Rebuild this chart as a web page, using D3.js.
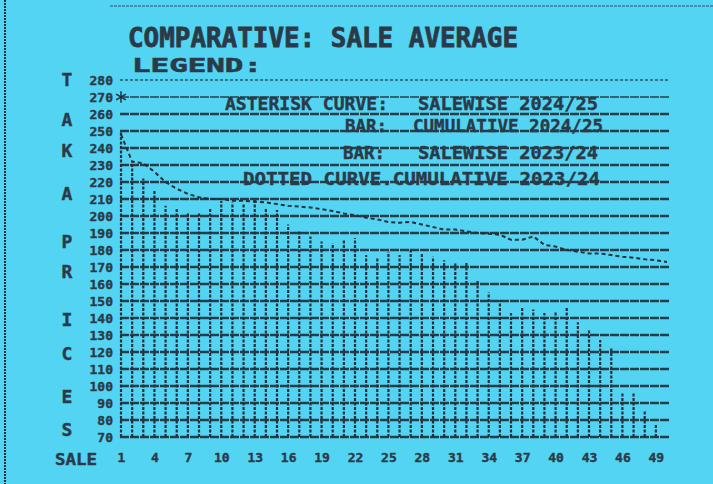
<!DOCTYPE html>
<html>
<head>
<meta charset="utf-8">
<script src="https://cdn.jsdelivr.net/npm/d3@7"></script>
<style>
  html, body { margin: 0; padding: 0; background: #52d4f2; }
  svg { display: block; }
  text { font-family: "DejaVu Sans Mono", "Liberation Mono", monospace; font-weight: bold; fill: #2b3a48; stroke: #2b3a48; stroke-width: 0.4px; }
</style>
</head>
<body>
<div id="chart"></div>
<script>
// values
const yTicks = [70, 80, 90, 100, 110, 120, 130, 140, 150, 160, 170, 180, 190, 200, 210, 220, 230, 240, 250, 260, 270, 280];
const xTicks = [1, 4, 7, 10, 13, 16, 19, 22, 25, 28, 31, 34, 37, 40, 43, 46, 49];

// bars, sale 1..49
const barValues = [250, 232, 222, 215, 206, 204.5, 201.5, 202, 204.5, 209,
  208, 207.5, 210.5, 205, 203.5, 195, 191, 188, 185, 184,
  186, 187, 177, 175, 179, 177, 180, 178, 176, 174,
  172, 173, 162, 155, 150.5, 143, 146, 145, 143, 144,
  146.5, 137.5, 133, 127, 122, 96.5, 96.5, 85, 78];

// dotted curve, sale 1..50
const dottedValues = [248, 232, 231, 226, 220, 216, 213, 211, 210, 210,
  209, 209, 208.5, 208, 207, 206, 205.5, 205, 204, 203,
  201.5, 200.5, 199, 198, 196.5, 196, 196.5, 195, 193.5, 192,
  192, 191, 190, 189.5, 189, 186, 186, 188, 183, 182,
  180, 179, 178, 178, 177, 176, 175.5, 174.5, 174, 173];

// asterisk curve (only the first sale printed)
const asteriskValues = [270];

const titleText = "COMPARATIVE: SALE AVERAGE";
const legendTitle = "LEGEND:";
const legendKeys = ["ASTERISK CURVE:", "BAR:", "BAR:", "DOTTED CURVE.CUMULATIVE 2023/24"];
const legendNames = ["SALEWISE 2024/25", "CUMULATIVE 2024/25", "SALEWISE 2023/24", ""];
const yTitle = ["T", "A", "K", "A", "P", "R", "I", "C", "E", "S"];

const width = 713, height = 484;
const ink = "#22303d";

const svg = d3.select("#chart").append("svg")
  .attr("width", width)
  .attr("height", height);

const x = d3.scaleLinear().domain([1, 50]).range([121, 667]);
const y = d3.scaleLinear().domain([70, 280]).range([437, 80]);

// paper edge marks
svg.append("line")
  .attr("x1", 5).attr("x2", 5).attr("y1", 0).attr("y2", height)
  .attr("stroke", ink).attr("stroke-width", 2).attr("stroke-dasharray", "2,1");
svg.append("line")
  .attr("x1", 110).attr("x2", width).attr("y1", 6).attr("y2", 6)
  .attr("stroke", ink).attr("stroke-width", 1.2).attr("stroke-dasharray", "3,1").attr("opacity", 0.8);

// horizontal grid
svg.append("g").attr("class", "grid")
  .selectAll("line")
  .data(yTicks)
  .enter().append("line")
  .attr("x1", x(1) - 1)
  .attr("x2", x(50) + 3)
  .attr("y1", d => y(d))
  .attr("y2", d => y(d))
  .attr("stroke", ink)
  .attr("stroke-width", d => d >= 270 ? 1.5 : 2.3)
  .attr("stroke-dasharray", d => d == 280 ? "3,2" : "9,1")
  .attr("opacity", d => d == 280 ? 0.75 : 0.92);

// bars as dotted verticals
svg.append("g").attr("class", "bars")
  .selectAll("line")
  .data(barValues)
  .enter().append("line")
  .attr("x1", (d, i) => x(i + 1))
  .attr("x2", (d, i) => x(i + 1))
  .attr("y1", y(70))
  .attr("y2", d => y(d))
  .attr("stroke", ink)
  .attr("stroke-width", 2.2)
  .attr("stroke-dasharray", "3,1.5");

// dotted curve
const line = d3.line()
  .x((d, i) => x(i + 1))
  .y(d => y(d));

svg.append("path")
  .datum(dottedValues)
  .attr("d", line)
  .attr("fill", "none")
  .attr("stroke", ink)
  .attr("stroke-width", 2)
  .attr("stroke-dasharray", "4,3");

// asterisk curve
svg.append("g")
  .selectAll("path")
  .data(asteriskValues)
  .enter().append("path")
  .attr("d", d3.symbol(d3.symbolAsterisk, 90))
  .attr("transform", (d, i) => `translate(${x(i + 1)},${y(d)})`)
  .attr("fill", "none")
  .attr("stroke", ink)
  .attr("stroke-width", 1.5);

// y axis labels
svg.append("g")
  .attr("transform", `translate(${x(1)},0)`)
  .call(d3.axisLeft(y).tickValues(yTicks).tickSize(0).tickPadding(8).tickFormat(d3.format("d")))
  .call(g => g.select(".domain").remove())
  .selectAll("text")
  .style("font-size", "13px")
  .attr("fill", ink);

// x axis labels
svg.append("g")
  .attr("transform", `translate(0,${y(70)})`)
  .call(d3.axisBottom(x).tickValues(xTicks).tickSize(0).tickPadding(16).tickFormat(d3.format("d")))
  .call(g => g.select(".domain").remove())
  .selectAll("text")
  .style("font-size", "13px")
  .attr("fill", ink);

svg.append("text")
  .attr("x", 55).attr("y", 465)
  .attr("textLength", 42).attr("lengthAdjust", "spacingAndGlyphs")
  .style("font-size", "15px")
  .text("SALE");

// vertical axis title, one letter per row
const letterY = [80, 120, 151, 194, 242, 272, 320, 354, 397, 430];
svg.append("g")
  .selectAll("text")
  .data(yTitle)
  .enter().append("text")
  .attr("x", 67)
  .attr("y", (d, i) => letterY[i])
  .attr("dy", "0.36em")
  .attr("text-anchor", "middle")
  .style("font-size", "18px")
  .text(d => d);

// title and legend
svg.append("text")
  .attr("x", 128).attr("y", 47)
  .attr("textLength", 390).attr("lengthAdjust", "spacingAndGlyphs")
  .style("font-size", "27px")
  .style("stroke-width", "0.8px")
  .text(titleText);

svg.append("text")
  .attr("x", 132).attr("y", 72)
  .attr("textLength", 130).attr("lengthAdjust", "spacingAndGlyphs")
  .style("font-size", "20px")
  .style("stroke-width", "0.6px")
  .text(legendTitle);

const legendRows = [
  { y: 110, kx: 225, kw: 163, nx: 418, nw: 180 },
  { y: 132, kx: 345, kw: 42, nx: 413, nw: 190 },
  { y: 159, kx: 343, kw: 42, nx: 418, nw: 180 },
  { y: 185, kx: 243, kw: 357, nx: 0, nw: 0 }
];

const lg = svg.append("g").attr("class", "legend");
legendRows.forEach((r, i) => {
  lg.append("text")
    .attr("x", r.kx).attr("y", r.y)
    .attr("textLength", r.kw).attr("lengthAdjust", "spacingAndGlyphs")
    .style("font-size", "18px")
    .text(legendKeys[i]);
  if (legendNames[i]) {
    lg.append("text")
      .attr("x", r.nx).attr("y", r.y)
      .attr("textLength", r.nw).attr("lengthAdjust", "spacingAndGlyphs")
      .style("font-size", "18px")
      .text(legendNames[i]);
  }
});
</script>
</body>
</html>
